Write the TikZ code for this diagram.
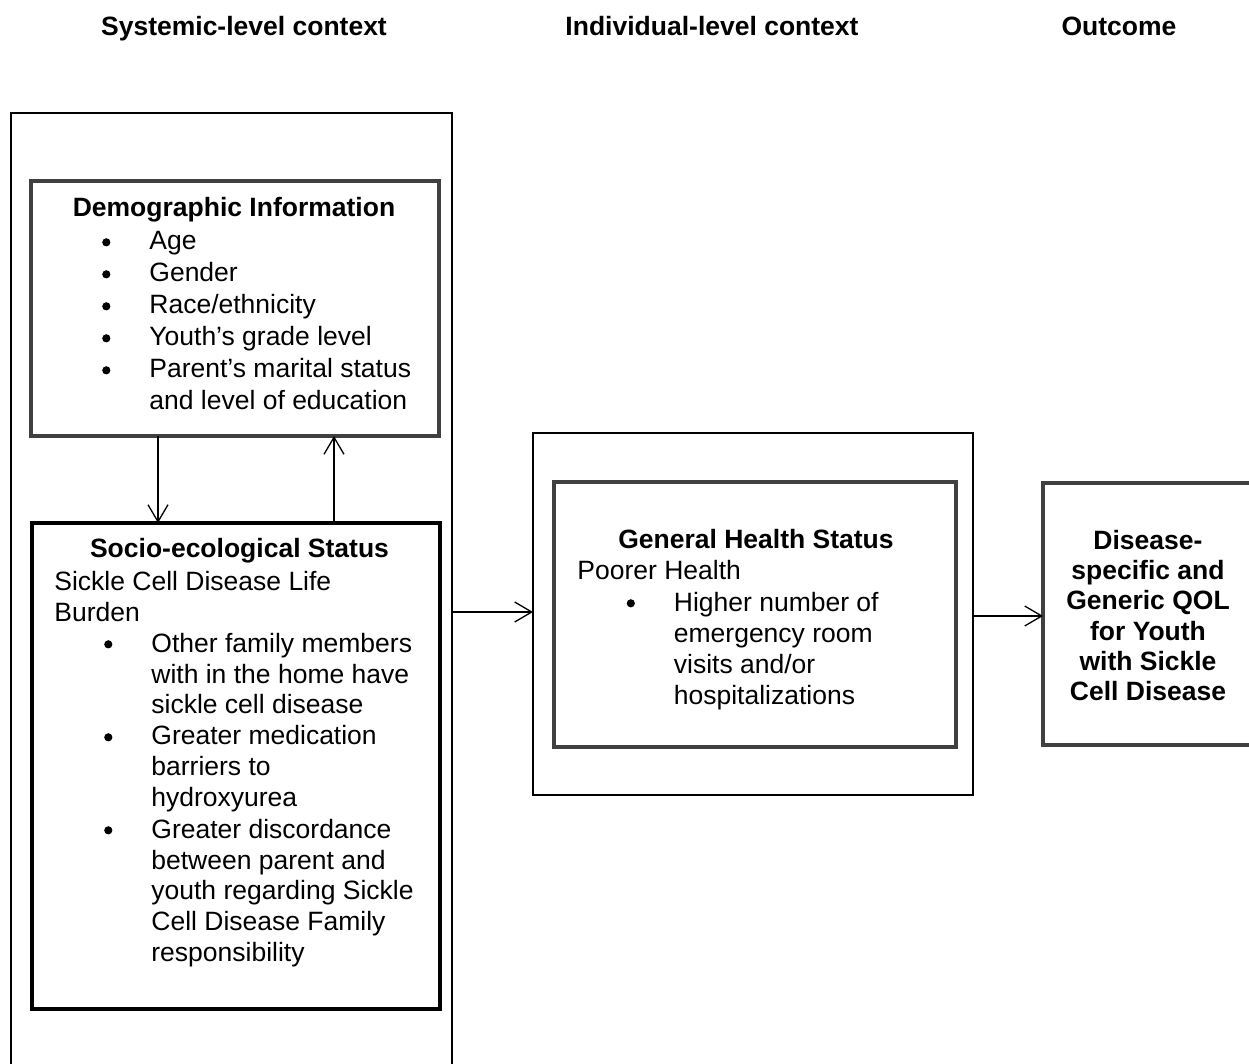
\documentclass[tikz,border=0pt]{standalone}
\usepackage{fontspec}
\setmainfont{Liberation Sans}
\usetikzlibrary{arrows.meta}
\definecolor{boxgray}{RGB}{64,64,64}
\newcommand{\dotb}{\tikz[baseline=0pt]\fill[black] (0pt,0.29em) circle (0.155em);}
\newcommand{\bul}{\leavevmode\llap{\makebox[23.6pt][l]{\dotb}}}
\begin{document}
\fontsize{13.25}{15.5}\selectfont
\begin{tikzpicture}[x=0.5pt,y=-0.5pt,
  thinbox/.style={draw=black, line width=0.65pt, inner sep=0pt, outer sep=0pt, anchor=north west},
  graybox/.style={draw=boxgray, line width=1.65pt, inner sep=0pt, outer sep=0pt, anchor=north west},
  blackbox/.style={draw=black, line width=2pt, inner sep=0pt, outer sep=0pt, anchor=north west},
  arr/.style={-{Straight Barb[length=8.5pt,width=10pt]}, line width=0.65pt},
  hdr/.style={font=\bfseries, anchor=base, inner sep=0pt},
  txt/.style={anchor=base west, inner sep=0pt}]
\useasboundingbox (0,0) rectangle (1249,1064);
\clip (0,0) rectangle (1249,1064);

% headers
\node[hdr] (h1) at (244,36) {Systemic-level context};
\node[hdr] (h2) at (712,36) {Individual-level context};
\node[hdr] (h3) at (1119,36) {Outcome};

% boxes
\node[thinbox, minimum width=220.5pt, minimum height=483.5pt] (sys) at (11,113) {};
\node[graybox, minimum width=204pt, minimum height=127.5pt] (demo) at (31,181) {};
\node[blackbox, minimum width=204pt, minimum height=243pt] (socio) at (32,523) {};
\node[thinbox, minimum width=220pt, minimum height=181pt] (ind) at (533,433) {};
\node[graybox, minimum width=201pt, minimum height=132.5pt] (gen) at (554,482) {};
\node[graybox, minimum width=105.5pt, minimum height=131pt] (out) at (1043,483) {};

% demographic text
\node[hdr] (demot) at (234,217) {Demographic Information};
\node[txt] (demol) at (149,250) {\parbox[t]{200pt}{\fontsize{13.25}{16}\selectfont\raggedright
\bul Age\\
\bul Gender\\
\bul Race/ethnicity\\
\bul Youth’s grade level\\
\bul Parent’s marital status\\
and level of education}};

% socio text
\node[hdr] (sociot) at (239.5,557) {Socio-ecological Status};
\node[txt] (socioa) at (54,590) {\parbox[t]{200pt}{\fontsize{13.25}{15.5}\selectfont\raggedright
Sickle Cell Disease Life\\
Burden}};
\node[txt] (sociol) at (151,652) {\parbox[t]{200pt}{\fontsize{13.25}{15.5}\selectfont\raggedright
\bul Other family members\\
with in the home have\\
sickle cell disease\\
\bul Greater medication\\
barriers to\\
hydroxyurea\\
\bul Greater discordance\\
between parent and\\
youth regarding Sickle\\
Cell Disease Family\\
responsibility}};

% general health text
\node[hdr] (gent) at (756,548) {General Health Status};
\node[txt] (gena) at (577,580) {Poorer Health};
\node[txt] (genl) at (673.5,611) {\parbox[t]{200pt}{\fontsize{13.25}{15.5}\selectfont\raggedright
\bul Higher number of\\
emergency room\\
visits and/or\\
hospitalizations}};

% outcome text
\node[anchor=base, inner sep=0pt] (outt) at (1148,549) {\parbox[t]{150pt}{\fontsize{13.25}{15.2}\selectfont\bfseries\centering
Disease-\\
specific and\\
Generic QOL\\
for Youth\\
with Sickle\\
Cell Disease}};

% connectors
\coordinate (x1) at (158,0);
\coordinate (x2) at (334,0);
\coordinate (y1) at (0,612);
\coordinate (y2) at (0,616);
\draw[arr] (demo.south -| x1) -- (socio.north -| x1);
\draw[arr] (socio.north -| x2) -- (demo.south -| x2);
\draw[arr] (sys.east |- y1) -- (ind.west |- y1);
\draw[arr] (ind.east |- y2) -- (out.west |- y2);
\end{tikzpicture}
\end{document}
